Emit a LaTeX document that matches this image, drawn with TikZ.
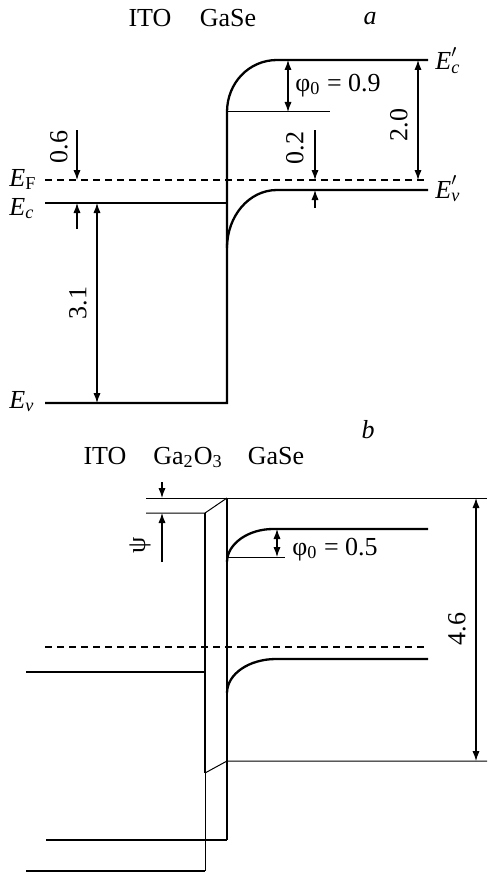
\documentclass[tikz,border=0pt]{standalone}
\usepackage{fontspec}
\setmainfont{Liberation Serif}
\usetikzlibrary{arrows.meta}
\newcommand\Elab[1]{\textit{E}\textsubscript{#1}}
\newcommand\Eplab[1]{\textit{E}\makebox[0pt][l]{\raisebox{0.15em}{$'$}}\textsubscript{\textit{#1}}}
\begin{document}
\begin{tikzpicture}[x=0.5pt,y=-0.5pt,
  band/.style={line width=1.15pt},
  thinl/.style={line width=0.5pt},
  fermi/.style={line width=0.6pt,dash pattern=on 3.6pt off 2.4pt},
  dimarrow/.style={line width=0.55pt,{Latex[length=5pt,width=3.6pt]}-{Latex[length=5pt,width=3.6pt]}},
  ptr/.style={line width=0.55pt,-{Latex[length=5pt,width=3.6pt]}},
  lbl/.style={font=\fontsize{13}{15}\selectfont,inner sep=0pt}]
\useasboundingbox (0,0) rectangle (488,872);
% ================= panel a =================
\node[lbl,anchor=base] (itoA) at (150,27) {ITO};
\node[lbl,anchor=base] (gaseA) at (228,27) {GaSe};
\node[lbl,anchor=base] (panA) at (370,25) {\textit{a}};
\coordinate (aEcL) at (45,203);
\coordinate (aEcR) at (227,203);
\coordinate (aEvL) at (45,403);
\coordinate (aEvR) at (227,403);
\coordinate (aBend) at (227,112);
\coordinate (aCtop) at (277,60);
\coordinate (aCend) at (428,60);
\coordinate (aVs) at (227,248);
\coordinate (aVtop) at (277,190);
\coordinate (aVend) at (428,190);
\coordinate (aPhiR) at (330,112);
\coordinate (aFL) at (45,180);
\coordinate (aFR) at (428,180);
\draw[band] (aEvL) -- (aEvR) -- (aBend) .. controls (227,83) and (249,60) .. (aCtop) -- (aCend);
\draw[band] (aEcL) -- (aEcR);
\draw[band] (aVs) .. controls (227,216) and (249,190) .. (aVtop) -- (aVend);
\draw[thinl] (aBend) -- (aPhiR);
\draw[fermi] (aFL) -- (aFR);
% phi0 = 0.9
\coordinate (aP1) at (288,60);
\coordinate (aP2) at (288,112);
\draw[dimarrow] (aP1) -- (aP2);
\node[lbl,anchor=base west] (phiA) at (295,91) {φ\textsubscript{0} = 0.9};
% 2.0
\coordinate (aT1) at (418,60);
\coordinate (aT2) at (418,180);
\draw[dimarrow] (aT1) -- (aT2);
\node[lbl,rotate=90] (twoA) at (399,125) {2.0};
% 0.2
\coordinate (aZa) at (315,130);
\coordinate (aZb) at (315,180);
\coordinate (aZc) at (315,208);
\coordinate (aZd) at (315,190);
\draw[ptr] (aZa) -- (aZb);
\draw[ptr] (aZc) -- (aZd);
\node[lbl,rotate=90] (ztwoA) at (295,148) {0.2};
% 0.6
\coordinate (aSa) at (77,130);
\coordinate (aSb) at (77,180);
\coordinate (aSc) at (77,229);
\coordinate (aSd) at (77,203);
\draw[ptr] (aSa) -- (aSb);
\draw[ptr] (aSc) -- (aSd);
\node[lbl,rotate=90] (zsixA) at (59,147) {0.6};
% 3.1
\coordinate (aG1) at (97,203);
\coordinate (aG2) at (97,403);
\draw[dimarrow] (aG1) -- (aG2);
\node[lbl,rotate=90] (gapA) at (78,303) {3.1};
% level labels
\node[lbl,anchor=base west] (EF) at (9,186) {\Elab{F}};
\node[lbl,anchor=base west] (Ec) at (9,215) {\Elab{\textit{c}}};
\node[lbl,anchor=base west] (Ev) at (9,408) {\Elab{\textit{v}}};
\node[lbl,anchor=base west] (Ecp) at (435,70) {\Eplab{c}};
\node[lbl,anchor=base west] (Evp) at (435,198) {\Eplab{v}};
% ================= panel b =================
\node[lbl,anchor=base] (itoB) at (105,464) {ITO};
\node[lbl,anchor=base] (gaoB) at (188,464) {Ga\textsubscript{2}O\textsubscript{3}};
\node[lbl,anchor=base] (gaseB) at (276,464) {GaSe};
\node[lbl,anchor=base] (panB) at (368,438) {\textit{b}};
\coordinate (bTopL) at (146,498);
\coordinate (bTopM) at (227,498);
\coordinate (bTopR) at (487,498);
\coordinate (bSecL) at (146,513);
\coordinate (bSecR) at (205,513);
\coordinate (bLeftBot) at (205,773);
\coordinate (bRightBot) at (227,840);
\coordinate (bLowM) at (227,761);
\coordinate (bLowR) at (487,761);
\coordinate (bEcL) at (26,672);
\coordinate (bEcR) at (205,672);
\coordinate (bEvL) at (46,840);
\coordinate (bBotL) at (26,871);
\coordinate (bBotR) at (205,871);
\coordinate (bFL) at (45,647);
\coordinate (bFR) at (428,647);
\draw[thinl] (bTopL) -- (bTopR);
\draw[thinl] (bSecL) -- (bSecR) -- (bTopM);
\draw[band] (bSecR) -- (bLeftBot);
\draw[band] (bTopM) -- (bRightBot);
\draw[band] (bEcL) -- (bEcR);
\draw[band] (bEvL) -- (bRightBot);
\draw[thinl] (bLeftBot) -- (bLowM) -- (bLowR);
\draw[thinl] (bLeftBot) -- (bBotR);
\draw[line width=0.7pt] (bBotL) -- (bBotR);
\draw[fermi] (bFL) -- (bFR);
% GaSe bands
\coordinate (bCs) at (227,562);
\coordinate (bCtop) at (273,529);
\coordinate (bCend) at (428,529);
\coordinate (bVs) at (227,693);
\coordinate (bVtop) at (276,659);
\coordinate (bVend) at (428,659);
\coordinate (bPhiR) at (285,557);
\coordinate (bPhiL) at (227,557);
\draw[band] (bCs) .. controls (227,544) and (248,529) .. (bCtop) -- (bCend);
\draw[band] (bVs) .. controls (227,674) and (249,659) .. (bVtop) -- (bVend);
\draw[thinl] (bPhiL) -- (bPhiR);
% phi0 = 0.5
\coordinate (bP1) at (277,529);
\coordinate (bP2) at (277,557);
\draw[dimarrow] (bP1) -- (bP2);
\node[lbl,anchor=base west] (phiB) at (292,555) {φ\textsubscript{0} = 0.5};
% 4.6
\coordinate (bF1) at (476,498);
\coordinate (bF2) at (476,761);
\draw[dimarrow] (bF1) -- (bF2);
\node[lbl,rotate=90] (fsixB) at (457,629) {4.6};
% psi
\coordinate (bQa) at (162,482);
\coordinate (bQb) at (162,498);
\coordinate (bQc) at (162,562);
\coordinate (bQd) at (162,513);
\draw[ptr] (bQa) -- (bQb);
\draw[ptr] (bQc) -- (bQd);
\node[lbl,rotate=90] (psiB) at (140,545) {ψ};
\end{tikzpicture}
\end{document}
